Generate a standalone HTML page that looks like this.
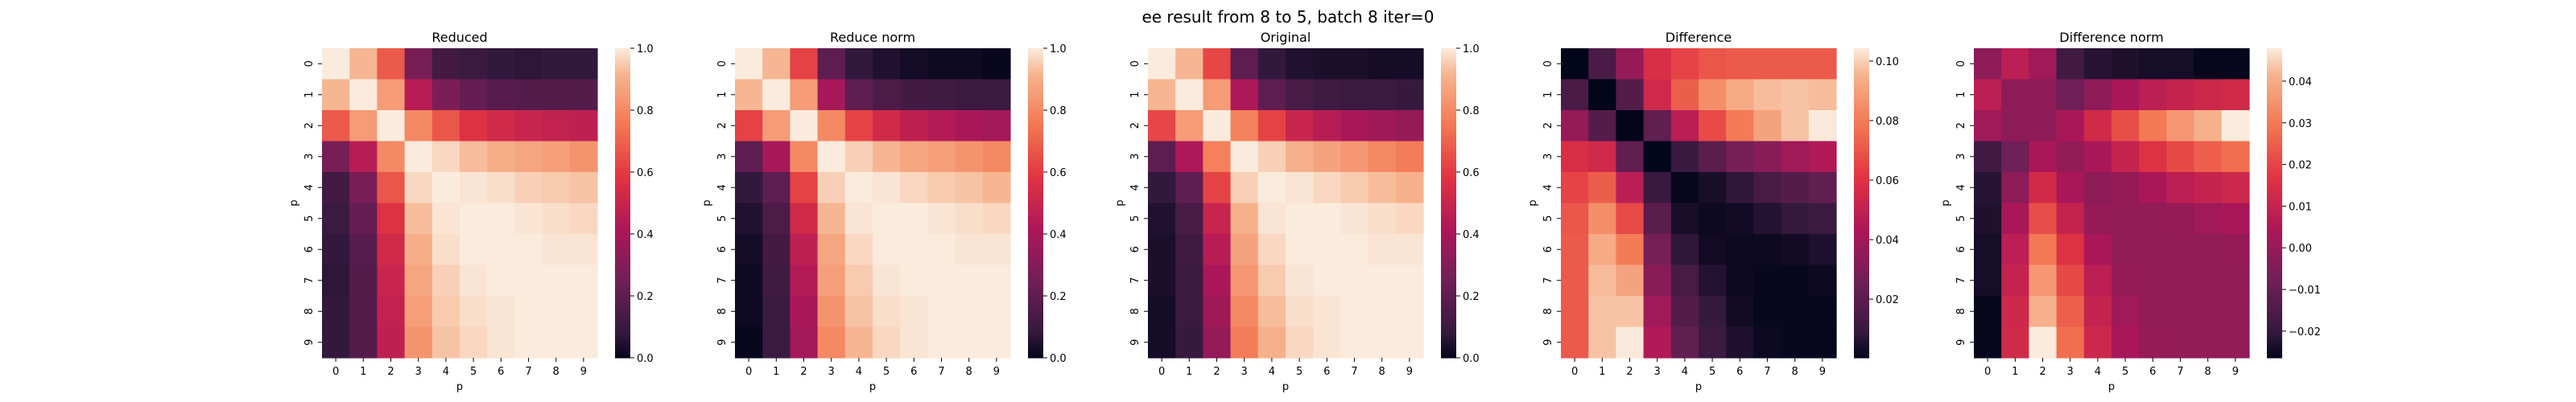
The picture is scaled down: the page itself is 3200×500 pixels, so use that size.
<!DOCTYPE html>
<html><head><meta charset="utf-8"><style>
html,body{margin:0;padding:0;background:#fff;}
svg{display:block;font-family:"DejaVu Sans","Liberation Sans",sans-serif;}
</style></head><body>
<svg id="fig" width="3200" height="500" viewBox="0 0 3200 500" xmlns="http://www.w3.org/2000/svg">
<rect width="3200" height="500" fill="#fff"/>
<text x="1600" y="28" font-size="20" text-anchor="middle" fill="#000">ee result from 8 to 5, batch 8 iter=0</text>
</svg>
<script>
const categories = [0,1,2,3,4,5,6,7,8,9];
const titles = ["Reduced","Reduce norm","Original","Difference","Difference norm"];
const reduced = [
[1.00,0.92,0.68,0.27,0.12,0.10,0.08,0.07,0.08,0.08],
[0.92,1.00,0.85,0.45,0.28,0.22,0.18,0.17,0.17,0.17],
[0.68,0.85,1.00,0.80,0.67,0.57,0.53,0.50,0.48,0.47],
[0.27,0.45,0.80,1.00,0.97,0.93,0.90,0.88,0.86,0.83],
[0.12,0.28,0.67,0.97,1.00,0.99,0.98,0.96,0.95,0.94],
[0.10,0.22,0.57,0.93,0.99,1.00,1.00,0.99,0.98,0.97],
[0.08,0.18,0.53,0.90,0.98,1.00,1.00,1.00,0.99,0.99],
[0.07,0.17,0.50,0.88,0.96,0.99,1.00,1.00,1.00,1.00],
[0.08,0.17,0.48,0.86,0.95,0.98,0.99,1.00,1.00,1.00],
[0.08,0.17,0.47,0.83,0.94,0.97,0.99,1.00,1.00,1.00]];
const reduceNorm = [
[1.00,0.92,0.62,0.20,0.08,0.05,0.03,0.02,0.02,0.01],
[0.92,1.00,0.85,0.40,0.20,0.15,0.12,0.11,0.10,0.10],
[0.62,0.85,1.00,0.80,0.62,0.53,0.47,0.44,0.41,0.39],
[0.20,0.40,0.80,1.00,0.96,0.92,0.88,0.86,0.83,0.80],
[0.08,0.20,0.62,0.96,1.00,0.99,0.97,0.95,0.94,0.92],
[0.05,0.15,0.53,0.92,0.99,1.00,1.00,0.99,0.98,0.97],
[0.03,0.12,0.47,0.88,0.97,1.00,1.00,1.00,0.99,0.99],
[0.02,0.11,0.44,0.86,0.95,0.99,1.00,1.00,1.00,1.00],
[0.02,0.10,0.41,0.83,0.94,0.98,0.99,1.00,1.00,1.00],
[0.01,0.10,0.39,0.80,0.92,0.97,0.99,1.00,1.00,1.00]];
const original = [
[1.00,0.92,0.63,0.20,0.08,0.05,0.04,0.04,0.03,0.03],
[0.92,1.00,0.85,0.42,0.20,0.14,0.11,0.10,0.10,0.09],
[0.63,0.85,1.00,0.78,0.62,0.50,0.45,0.41,0.38,0.35],
[0.20,0.42,0.78,1.00,0.96,0.91,0.87,0.84,0.80,0.77],
[0.08,0.20,0.62,0.96,1.00,0.99,0.97,0.95,0.93,0.91],
[0.05,0.14,0.50,0.91,0.99,1.00,1.00,0.99,0.98,0.97],
[0.04,0.11,0.45,0.87,0.97,1.00,1.00,1.00,0.99,0.99],
[0.04,0.10,0.41,0.84,0.95,0.99,1.00,1.00,1.00,1.00],
[0.03,0.10,0.38,0.80,0.93,0.98,0.99,1.00,1.00,1.00],
[0.03,0.09,0.35,0.77,0.91,0.97,0.99,1.00,1.00,1.00]];
const difference = [
[0.000,0.015,0.037,0.058,0.065,0.070,0.071,0.071,0.071,0.071],
[0.015,0.000,0.018,0.055,0.072,0.085,0.093,0.097,0.098,0.097],
[0.037,0.018,0.000,0.022,0.048,0.067,0.080,0.091,0.098,0.104],
[0.058,0.055,0.022,0.000,0.010,0.020,0.028,0.033,0.040,0.045],
[0.065,0.072,0.048,0.010,0.001,0.004,0.008,0.014,0.018,0.022],
[0.070,0.085,0.067,0.020,0.004,0.002,0.003,0.006,0.009,0.011],
[0.071,0.093,0.080,0.028,0.008,0.003,0.002,0.002,0.003,0.005],
[0.071,0.097,0.091,0.033,0.014,0.006,0.002,0.001,0.001,0.002],
[0.071,0.098,0.098,0.040,0.018,0.009,0.003,0.001,0.001,0.001],
[0.071,0.098,0.104,0.045,0.022,0.011,0.005,0.002,0.001,0.001]];
const differenceNorm = [
[-0.002,0.008,0.002,-0.018,-0.022,-0.023,-0.024,-0.024,-0.026,-0.026],
[0.008,-0.002,-0.002,-0.008,-0.002,0.004,0.008,0.010,0.012,0.013],
[0.002,-0.002,-0.002,0.004,0.013,0.022,0.030,0.036,0.041,0.048],
[-0.018,-0.008,0.004,-0.001,0.004,0.010,0.016,0.021,0.025,0.028],
[-0.022,-0.002,0.013,0.004,-0.002,0.000,0.004,0.008,0.010,0.012],
[-0.023,0.004,0.022,0.010,0.000,-0.001,-0.001,0.000,0.002,0.004],
[-0.024,0.008,0.030,0.016,0.004,-0.001,-0.001,-0.001,-0.001,0.000],
[-0.024,0.010,0.036,0.021,0.008,0.000,-0.001,-0.001,-0.001,-0.001],
[-0.026,0.012,0.041,0.025,0.010,0.002,-0.001,-0.001,-0.001,-0.001],
[-0.026,0.013,0.048,0.028,0.012,0.004,0.000,-0.001,-0.001,-0.001]];
const unitTicks = [0,0.2,0.4,0.6,0.8,1.0];
const unitTickLabels = ["0.0","0.2","0.4","0.6","0.8","1.0"];
const diffTicks = [0.02,0.04,0.06,0.08,0.10];
const diffTickLabels = ["0.02","0.04","0.06","0.08","0.10"];
const diffNormTicks = [-0.02,-0.01,0,0.01,0.02,0.03,0.04];
const diffNormTickLabels = ["\u22120.02","\u22120.01","0.00","0.01","0.02","0.03","0.04"];

const panels = [
 {data:reduced, vmin:0, vmax:1, ticks:unitTicks, labels:unitTickLabels},
 {data:reduceNorm, vmin:0, vmax:1, ticks:unitTicks, labels:unitTickLabels},
 {data:original, vmin:0, vmax:1, ticks:unitTicks, labels:unitTickLabels},
 {data:difference, vmin:0.0003, vmax:0.1043, ticks:diffTicks, labels:diffTickLabels},
 {data:differenceNorm, vmin:-0.0264, vmax:0.0479, ticks:diffNormTicks, labels:diffNormTickLabels}
];
const stops=[[0,[3,5,26]],[0.083,[53,25,62]],[0.25,[112,31,87]],[0.417,[173,23,89]],[0.583,[225,51,66]],[0.75,[243,118,81]],[0.917,[246,180,143]],[1,[250,235,221]]];
function rocket(t){t=Math.max(0,Math.min(1,t));
 for(let i=1;i<stops.length;i++){if(t<=stops[i][0]){const a=stops[i-1],b=stops[i];const f=(t-a[0])/(b[0]-a[0]);
  return 'rgb('+a[1].map((c,k)=>Math.round(c+(b[1][k]-c)*f)).join(',')+')';}}
 return 'rgb(250,235,221)';}
const NS="http://www.w3.org/2000/svg", svg=document.getElementById('fig');
function el(tag,attrs,parent){const e=document.createElementNS(NS,tag);for(const k in attrs)e.setAttribute(k,attrs[k]);(parent||svg).appendChild(e);return e;}
const AX0=400, STEP=513, TOP=60, W=342, H=385, CBOFF=364, CBW=19;
panels.forEach((p,pi)=>{
 const left=AX0+pi*STEP;
 const g=el('g',{});
 
 
 const n=categories.length, cw=W/n, ch=H/n;
 const xs=i=>left+i*cw, ys=j=>TOP+j*ch;
 const norm=v=>(v-p.vmin)/(p.vmax-p.vmin);
 p.data.forEach((row,r)=>row.forEach((v,c)=>{
  const rc=el('rect',{x:xs(c),y:ys(r),width:cw+0.6,height:ch+0.6,fill:rocket(norm(v))},g);
  
  
 }));
 const t=el('text',{x:left+W/2,y:52,'font-size':16,'text-anchor':'middle'},g);t.textContent=titles[pi];
 
 
 categories.forEach((c,i)=>{
  const cx=xs(i)+cw/2, cy=ys(i)+ch/2;
  el('line',{x1:cx,x2:cx,y1:TOP+H,y2:TOP+H+5,stroke:'#000','stroke-width':1},g);
  const xt=el('text',{x:cx,y:TOP+H+21,'font-size':13,'text-anchor':'middle'},g);xt.textContent=c;
  
  
  el('line',{x1:left-5,x2:left,y1:cy,y2:cy,stroke:'#000','stroke-width':1},g);
  const yt=el('text',{x:0,y:0,'font-size':13,'text-anchor':'middle',transform:'translate('+(left-12)+','+cy+') rotate(-90)'},g);yt.textContent=c;
  
  
 });
 const xl=el('text',{x:left+W/2,y:TOP+H+40,'font-size':13,'text-anchor':'middle'},g);xl.textContent='p';
 
 
 const yl=el('text',{x:0,y:0,'font-size':13,'text-anchor':'middle',transform:'translate('+(left-31)+','+(TOP+H/2)+') rotate(-90)'},g);yl.textContent='p';
 
 
 // colorbar
 const cbx=left+CBOFF;
 const cb=el('g',{},g);
 
 
 const N=96;
 for(let k=0;k<N;k++){el('rect',{x:cbx,y:TOP+H-(k+1)*H/N,width:CBW,height:H/N+0.6,fill:rocket((k+0.5)/N)},cb);}
 const cy=v=>TOP+H-(v-p.vmin)/(p.vmax-p.vmin)*H;
 p.ticks.forEach((v,i)=>{
  const y=cy(v);
  el('line',{x1:cbx+CBW,x2:cbx+CBW+5,y1:y,y2:y,stroke:'#000','stroke-width':1},cb);
  const tl=el('text',{x:cbx+CBW+8,y:y+5,'font-size':13},cb);tl.textContent=p.labels[i];
  
  
 });
});
</script>
</body></html>
